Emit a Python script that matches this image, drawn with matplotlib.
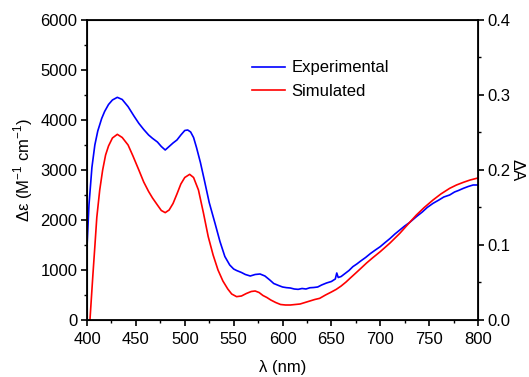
import matplotlib
matplotlib.use("Agg")
import matplotlib.pyplot as plt
from matplotlib.ticker import MultipleLocator

plt.rcParams['font.family'] = ['Liberation Sans', 'DejaVu Sans']
plt.rcParams['mathtext.fontset'] = 'custom'
plt.rcParams['mathtext.rm'] = 'Liberation Sans'

# Experimental spectrum (nm, M^-1 cm^-1)
wl_exp = [400, 402, 405, 408, 411, 415, 418, 422, 426, 431, 436, 442, 448, 453,
          458, 463, 467, 472, 476, 480, 484, 488, 492, 496, 500, 503, 506, 509,
          512, 516, 520, 525, 531, 536, 541, 546, 550, 553, 558, 562, 567, 572,
          577, 582, 587, 591, 596, 600, 604, 608, 612, 616, 620, 624, 628, 632,
          636, 640, 645, 650, 654, 655.5, 657, 660, 664, 668, 672, 676, 680, 685,
          690, 695, 700, 705, 710, 715, 720, 725, 730, 737, 743, 748, 754, 760,
          765, 771, 776, 780, 785, 790, 795, 800]
eps_exp = [1470, 2300, 3050, 3500, 3780, 4030, 4170, 4310, 4400, 4453, 4410, 4267,
           4080, 3933, 3810, 3700, 3633, 3560, 3470, 3400, 3470, 3540, 3600, 3700,
           3790, 3800, 3760, 3650, 3450, 3150, 2800, 2350, 1930, 1570, 1270, 1100,
           1020, 990, 950, 910, 880, 910, 920, 880, 800, 730, 690, 660, 647, 640,
           620, 613, 630, 620, 645, 650, 660, 700, 740, 770, 820, 940, 850, 870,
           930, 990, 1067, 1120, 1180, 1250, 1330, 1400, 1467, 1550, 1630, 1720,
           1800, 1880, 1950, 2067, 2160, 2250, 2333, 2400, 2460, 2500, 2560, 2590,
           2633, 2670, 2700, 2700]

# Simulated spectrum
wl_sim = [403, 404, 406, 408, 410, 413, 416, 419, 422, 426, 431, 436, 442, 447,
          453, 458, 463, 467, 472, 476, 480, 484, 488, 492, 496, 500, 505, 509,
          514, 519, 524, 529, 534, 539, 544, 548, 553, 558, 563, 568, 572, 576,
          580, 584, 588, 593, 598, 603, 608, 613, 618, 623, 628, 633, 638, 644,
          650, 655, 660, 665, 669, 675, 680, 686, 692, 700, 710, 720, 730, 737,
          745, 754, 762, 771, 778, 785, 792, 800]
eps_sim = [0, 300, 900, 1467, 2050, 2600, 3000, 3300, 3480, 3640, 3713, 3650, 3500,
           3280, 3000, 2760, 2570, 2440, 2300, 2190, 2147, 2200, 2330, 2520, 2720,
           2850, 2913, 2850, 2600, 2150, 1667, 1300, 1000, 780, 620, 520, 467, 480,
           530, 570, 580, 550, 490, 450, 400, 350, 310, 300, 300, 310, 320, 350,
           380, 410, 433, 500, 560, 613, 680, 760, 833, 940, 1030, 1140, 1240, 1367,
           1540, 1733, 1950, 2100, 2250, 2400, 2520, 2633, 2700, 2753, 2800, 2840]

fig = plt.figure(figsize=(5.29, 3.77), dpi=100)
ax = fig.add_axes([0.1645, 0.1512, 0.7391, 0.7958])

ax.plot(wl_exp, eps_exp, color='#0000ff', lw=1.2, label='Experimental')
ax.plot(wl_sim, eps_sim, color='#ff0000', lw=1.2, label='Simulated')

ax.set_xlim(400, 800)
ax.set_ylim(0, 6000)
ax.xaxis.set_major_locator(MultipleLocator(50))
ax.xaxis.set_minor_locator(MultipleLocator(25))
ax.yaxis.set_major_locator(MultipleLocator(1000))
ax.yaxis.set_minor_locator(MultipleLocator(500))
ax.tick_params(which='major', direction='out', length=4, width=1.2, labelsize=12, pad=3)
ax.tick_params(axis='x', which='major', pad=5)
ax.tick_params(which='minor', direction='out', length=2.5, width=1.0)
ax.tick_params(top=False, right=False, which='both')
for s in ax.spines.values():
    s.set_linewidth(1.3)

ax.set_xlabel('λ (nm)', fontsize=12, labelpad=9)
ax.set_ylabel('Δε (M$^{-1}$ cm$^{-1}$)', fontsize=12, labelpad=4)

ax2 = ax.twinx()
ax2.set_ylim(0, 0.4)
ax2.yaxis.set_major_locator(MultipleLocator(0.1))
ax2.yaxis.set_minor_locator(MultipleLocator(0.05))
ax2.yaxis.set_major_formatter(plt.FormatStrFormatter('%.1f'))
ax2.tick_params(which='major', direction='out', length=4, width=1.2, labelsize=12, pad=3)
ax2.tick_params(which='minor', direction='out', length=2.5, width=1.0)
ax2.set_ylabel('ΔA', fontsize=12, rotation=-90, labelpad=10)

ax.legend(loc='upper left', bbox_to_anchor=(0.383, 0.915), frameon=False,
          fontsize=12, handlelength=2.0, handletextpad=0.4, labelspacing=0.5)

fig.savefig('out.png', dpi=100)
